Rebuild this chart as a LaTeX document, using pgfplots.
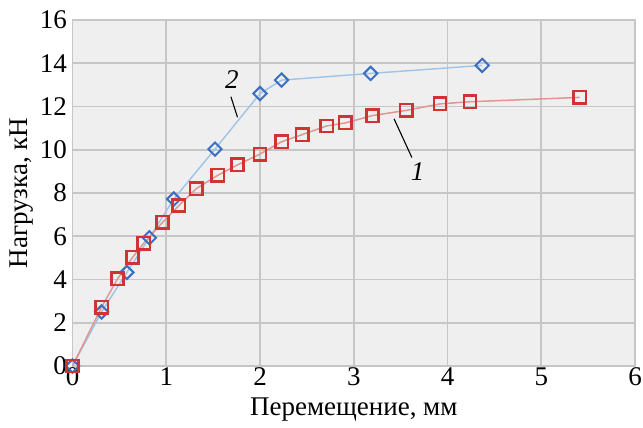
\documentclass[border=0pt]{standalone}
\usepackage{fontspec}
\setmainfont{Liberation Serif}
\usepackage{pgfplots}
\pgfplotsset{compat=1.18}
\definecolor{bgc}{HTML}{EFEFEF}
\definecolor{gridc}{HTML}{C6C6C6}
\definecolor{blueline}{HTML}{9DC3E6}
\definecolor{bluemark}{HTML}{3A6FC4}
\definecolor{redline}{HTML}{E39595}
\definecolor{redmark}{HTML}{D03333}
\begin{document}
\begin{tikzpicture}
\begin{axis}[
  scale only axis,
  width=562.5bp, height=346bp,
  xmin=0, xmax=6, ymin=0, ymax=16,
  xtick={0,1,...,6}, ytick={0,2,...,16},
  /pgf/number format/assume math mode=true,
  tick label style={font=\fontsize{27bp}{30bp}\selectfont},
  label style={font=\fontsize{27bp}{30bp}\selectfont},
  xlabel={Перемещение, мм},
  ylabel={Нагрузка, кН},
  xlabel style={at={(axis description cs:0.5,0)}, anchor=north, yshift=-28bp},
  ylabel style={at={(axis description cs:0,0.5)}, anchor=south, yshift=36bp},
  xticklabel style={yshift=2bp},
  yticklabel style={xshift=-2bp},
  major tick length=0pt,
  axis background/.style={fill=bgc},
  axis line style={draw=gridc, line width=1.6bp},
  xmajorgrids=true, ymajorgrids=true,
  major grid style={draw=gridc, line width=1.8bp, solid},
  clip=false,
]
\addplot[color=blueline, line width=1.4bp, mark=square, mark size=4.7bp,
  mark options={rotate=45, draw=bluemark, fill=white, line width=2bp}]
  coordinates {(0,0) (0.31,2.5) (0.58,4.33) (0.82,5.93) (1.08,7.72) (1.52,10.03)
  (2.0,12.6) (2.23,13.22) (3.18,13.53) (4.37,13.9)};
\addplot[color=redline, line width=1.5bp, mark=square, mark size=6.2bp,
  mark options={draw=redmark, fill=white, line width=2.5bp}]
  coordinates {(0,0) (0.31,2.72) (0.48,4.03) (0.64,5.02) (0.76,5.68) (0.96,6.64)
  (1.135,7.42) (1.32,8.2) (1.55,8.82) (1.76,9.3) (2.0,9.8) (2.23,10.37)
  (2.45,10.7) (2.71,11.1) (2.91,11.24) (3.2,11.58) (3.56,11.82) (3.92,12.12)
  (4.24,12.22) (5.41,12.42)};
\draw[black, line width=1.1bp] (axis cs:1.69,12.45) -- (axis cs:1.76,11.5);
\node[font=\fontsize{27bp}{30bp}\selectfont\itshape] at (axis cs:1.70,13.25) {2};
\draw[black, line width=1.1bp] (axis cs:3.43,11.43) -- (axis cs:3.62,9.64);
\node[font=\fontsize{27bp}{30bp}\selectfont\itshape] at (axis cs:3.68,9.0) {1};
\end{axis}
\pgfresetboundingbox
\path (-72.5bp,-62bp) rectangle (570.5bp,366bp);
\end{tikzpicture}
\end{document}
